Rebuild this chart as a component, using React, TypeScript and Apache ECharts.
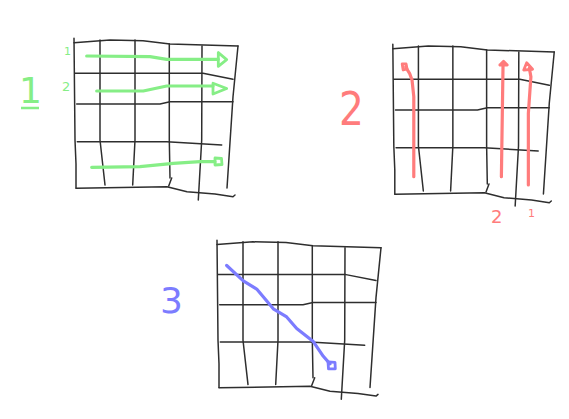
import { useEffect, useRef } from 'react'
import * as echarts from 'echarts'

// hand-drawn grid, in sketch units (1 unit = 1px), origin = top-left corner of the frame
const frameTop = [[-1, 0.7], [35, -2], [68, -1.3], [95, 2], [163, 4]]
const frameLeft = [[-1, -3.7], [0, 98], [1, 122], [1, 146]]
const frameBottom = [[1, 146.3], [92, 144.7], [112, 149.7], [140, 152], [158, 154.7], [160, 153]]
const frameRight = [[163, 4], [158, 54.7], [152, 146]]
const colLines = [
  [[25, -2], [25, 98], [30, 143]],
  [[60, -2], [60, 98], [57.7, 143]],
  [[94.3, 2], [94.3, 98], [95, 136]],
  [[127, 4], [126.7, 98], [123.3, 158]]
]
const stubLine = [[96.7, 136], [93.7, 144]]
const rowLines = [
  [[0, 31.3], [128, 31.3], [158, 37.3]],
  [[1.7, 62], [85, 62], [95, 59.7], [158, 59.7]],
  [[2.3, 99.7], [91.7, 99.7], [146.7, 103]]
]

// sketch 1: row-by-row (green)
const rowPaths = [
  [[11.7, 14], [75, 14.7], [91.7, 17.3], [143.3, 17.3]],
  [[21.7, 49], [68.3, 49], [91.7, 44], [138, 44]],
  [[16.7, 125.3], [65, 124.7], [98.3, 121.3], [125, 119.7], [140, 119.7]]
]
const rowHeads = [
  [[143.3, 10.7], [151.7, 17.7], [143.3, 24.3], [143.3, 10.7]],
  [[138, 41.3], [151.7, 46.5], [138, 52], [138, 41.3]],
  [[140, 116], [146.5, 116.5], [147, 122.5], [140, 123], [140, 116]]
]

// sketch 2: column-by-column (red)
const colPaths = [
  [[20.3, 128.7], [20.3, 48.7], [18.5, 32], [16, 25.3], [12, 19]],
  [[109.3, 128.7], [111, 15.3]],
  [[136.7, 137], [136.7, 65.3], [139.3, 28.7], [137.7, 20.3]]
]
const colHeads = [
  [[8.5, 16], [12.5, 16], [13.5, 21], [9.5, 22], [8.5, 16]],
  [[107.7, 17], [111.5, 13.3], [115.3, 17], [107.7, 17]],
  [[132, 22], [135, 14.7], [141, 21.3], [132, 22]]
]

// sketch 3: diagonal (blue)
const diagPath = [
  [8.7, 22], [25.3, 37.7], [38.7, 46], [55.3, 66], [68.7, 74.3],
  [78.7, 86], [95.3, 99.3], [105.3, 114.3], [112, 122]
]
const diagHead = [[110, 120], [117, 120.5], [117.3, 127], [110.5, 127], [110, 120]]

const sketchOrigins = [[75, 42], [394, 48], [218, 244]]
const bigLabels = ['1', '2', '3']

const INK = '#2e2e2e'
const GREEN = '#86ee86'
const RED = '#ff7c7c'
const BLUE = '#7c7cff'

export default function App() {
  const chartRef = useRef<HTMLDivElement>(null)

  useEffect(() => {
    const host = chartRef.current
    if (!host) return
    const chart = echarts.init(host, null, { renderer: 'svg' })

    const pad = 12
    const size = 190
    const grid = sketchOrigins.map(([x, y]) => ({
      left: x - pad,
      top: y - pad,
      width: size,
      height: size
    }))
    const xAxis = sketchOrigins.map((_, i) => ({
      type: 'value' as const, gridIndex: i, min: -pad, max: size - pad, show: false
    }))
    const yAxis = sketchOrigins.map((_, i) => ({
      type: 'value' as const, gridIndex: i, min: -pad, max: size - pad, inverse: true, show: false
    }))

    const stroke = (i: number, data: number[][], color: string, width: number) => ({
      type: 'line' as const,
      xAxisIndex: i,
      yAxisIndex: i,
      data,
      showSymbol: false,
      symbol: 'none',
      silent: true,
      lineStyle: { color, width, cap: 'round' as const, join: 'round' as const },
      z: color === INK ? 2 : 3
    })

    const series: any[] = []
    sketchOrigins.forEach((_, i) => {
      ;[frameTop, frameLeft, frameBottom, frameRight, ...colLines, stubLine, ...rowLines].forEach((d) =>
        series.push(stroke(i, d, INK, 1.5))
      )
    })
    rowPaths.forEach((d) => series.push(stroke(0, d, GREEN, 3.2)))
    rowHeads.forEach((d) => series.push(stroke(0, d, GREEN, 2.8)))
    colPaths.forEach((d) => series.push(stroke(1, d, RED, 3.2)))
    colHeads.forEach((d) => series.push(stroke(1, d, RED, 2.8)))
    series.push(stroke(2, diagPath, BLUE, 3.2))
    series.push(stroke(2, diagHead, BLUE, 2.8))

    const labelFont = '"DejaVu Sans", sans-serif'
    chart.setOption({
      animation: false,
      backgroundColor: '#ffffff',
      grid,
      xAxis,
      yAxis,
      series,
      graphic: [
        { type: 'text', left: 19, top: 72, style: { text: bigLabels[0], fill: GREEN, font: `normal 36px ${labelFont}` } },
        { type: 'line', shape: { x1: 21, y1: 108, x2: 39, y2: 108 }, style: { stroke: GREEN, lineWidth: 2.5 } },
        { type: 'text', left: 339, top: 86, scaleX: 0.85, style: { text: bigLabels[1], fill: RED, font: `normal 46px ${labelFont}` } },
        { type: 'text', left: 160, top: 282, style: { text: bigLabels[2], fill: BLUE, font: `normal 36px ${labelFont}` } },
        { type: 'text', left: 64, top: 46, style: { text: '1', fill: GREEN, font: `normal 11px ${labelFont}` } },
        { type: 'text', left: 62, top: 80, style: { text: '2', fill: GREEN, font: `normal 13px ${labelFont}` } },
        { type: 'text', left: 491, top: 207, style: { text: '2', fill: RED, font: `normal 18px ${labelFont}` } },
        { type: 'text', left: 528, top: 208, style: { text: '1', fill: RED, font: `normal 11px ${labelFont}` } }
      ]
    })

    return () => chart.dispose()
  }, [])

  return (
    <div
      ref={chartRef}
      style={{ position: 'fixed', left: 0, top: 0, width: 569, height: 419 }}
    />
  )
}
